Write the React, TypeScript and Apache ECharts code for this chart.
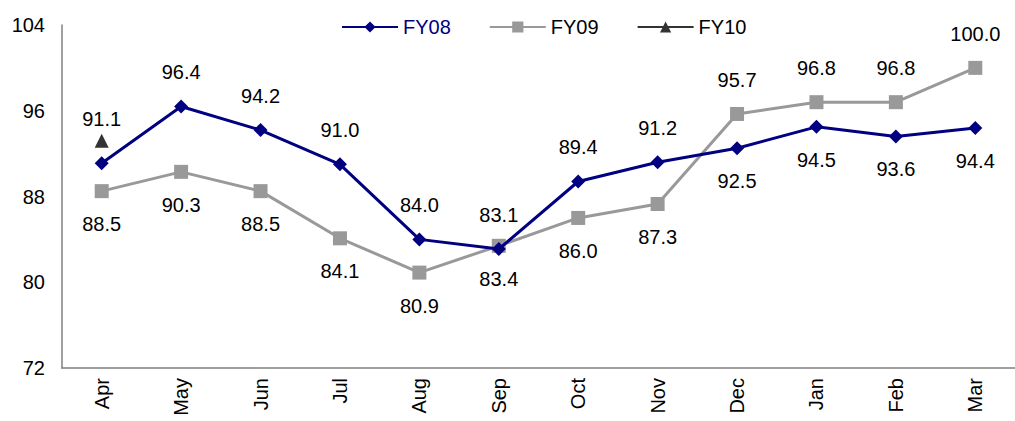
import React, { useEffect, useRef } from "react";
import * as echarts from "echarts";

const months = ["Apr", "May", "Jun", "Jul", "Aug", "Sep", "Oct", "Nov", "Dec", "Jan", "Feb", "Mar"];
const fy08 = [91.1, 96.4, 94.2, 91.0, 84.0, 83.1, 89.4, 91.2, 92.5, 94.5, 93.6, 94.4];
const fy09 = [88.5, 90.3, 88.5, 84.1, 80.9, 83.4, 86.0, 87.3, 95.7, 96.8, 96.8, 100.0];
const fy10 = [93.2, null, null, null, null, null, null, null, null, null, null, null];
const fy08Above = [true, true, true, true, true, true, true, true, false, false, false, false];
const fy09Above = [false, false, false, false, false, false, false, false, true, true, true, true];

const FONT = "'Liberation Sans', Arial, sans-serif";

export default function App() {
  const ref = useRef<HTMLDivElement>(null);
  useEffect(() => {
    if (!ref.current) return;
    const chart = echarts.init(ref.current, null, { renderer: "svg" });
    const mk = (vals: number[], above: boolean[], extraFirst = 0) =>
      vals.map((v, i) => ({
        value: v,
        label: {
          position: above[i] ? "top" : "bottom",
          distance: above[i] ? 17 + (i === 0 ? extraFirst : 0) : 16,
        },
      }));
    chart.setOption({
      animation: false,
      textStyle: { fontFamily: FONT },
      legend: {
        top: 12,
        left: 336,
        itemWidth: 56,
        itemHeight: 14,
        itemGap: 38,
        textStyle: { fontFamily: FONT, fontSize: 20, color: "#000" },
        data: [
          { name: "FY08", textStyle: { color: "#000080" } },
          { name: "FY09" },
          { name: "FY10" },
        ],
      },
      grid: { left: 62, top: 25, width: 961, height: 343 },
      xAxis: {
        type: "category",
        data: months,
        boundaryGap: true,
        axisLine: { lineStyle: { color: "#808080", width: 1.5 } },
        axisTick: { show: false },
        axisLabel: { rotate: 90, fontSize: 20, color: "#000", fontFamily: FONT, margin: 10 },
      },
      yAxis: {
        type: "value",
        min: 72,
        max: 104,
        interval: 8,
        splitLine: { show: false },
        axisLine: { show: true, lineStyle: { color: "#808080", width: 1.5 } },
        axisTick: { show: false },
        axisLabel: { fontSize: 20, color: "#000", fontFamily: FONT, margin: 17 },
      },
      series: [
        {
          name: "FY08",
          type: "line",
          data: mk(fy08, fy08Above, 10),
          symbol: "diamond",
          symbolSize: 14,
          itemStyle: { color: "#000080" },
          lineStyle: { color: "#000080", width: 3 },
          label: { show: true, fontSize: 20, color: "#000", fontFamily: FONT, formatter: (p: any) => p.value.toFixed(1) },
          z: 3,
        },
        {
          name: "FY09",
          type: "line",
          data: mk(fy09, fy09Above),
          symbol: "rect",
          symbolSize: 14,
          itemStyle: { color: "#999999" },
          lineStyle: { color: "#999999", width: 3 },
          label: { show: true, fontSize: 20, color: "#000", fontFamily: FONT, formatter: (p: any) => p.value.toFixed(1) },
          z: 2,
        },
        {
          name: "FY10",
          type: "line",
          data: fy10,
          symbol: "triangle",
          symbolSize: 14,
          itemStyle: { color: "#333333" },
          lineStyle: { color: "#333333", width: 3 },
          z: 4,
        },
      ],
    });
    return () => chart.dispose();
  }, []);
  return (
    <div
      ref={ref}
      style={{ position: "fixed", left: 0, top: 0, width: 1015, height: 421, background: "#fff" }}
    />
  );
}
